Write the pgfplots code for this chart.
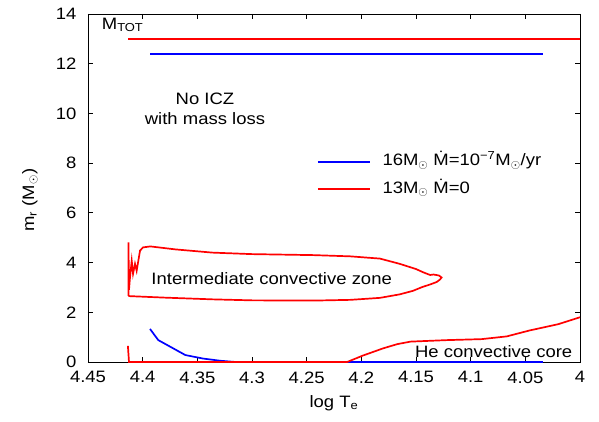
\documentclass[border=0pt]{standalone}
\usepackage{fontspec}
\setmainfont{Liberation Sans}[FakeStretch=1.12]
\usepackage{pgfplots}
\pgfplotsset{compat=1.18}
\definecolor{pblue}{RGB}{0,0,255}
\definecolor{pred}{RGB}{255,0,0}
\begin{document}
\begin{tikzpicture}[font=\fontsize{16.5}{20}\selectfont]
\begin{axis}[
  name=ax,
  scale only axis,
  width=492pt, height=348pt,
  x dir=reverse,
  xmin=4, xmax=4.45, ymin=0, ymax=14,
  xtick={4,4.05,4.1,4.15,4.2,4.25,4.3,4.35,4.4,4.45},
  xticklabels={4,4.05,4.1,4.15,4.2,4.25,4.3,4.35,4.4,4.45},
  ytick={0,2,4,6,8,10,12,14},
  /pgf/number format/assume math mode=true,
  major tick length=5pt,
  axis line style={line width=0.8pt},
  every tick/.style={black, line width=0.8pt},
  tick label style={font=\fontsize{16.5}{20}\selectfont},
  xticklabel style={yshift=-6pt},
  yticklabel style={xshift=-8pt},
  xlabel={log T\textsubscript{e}},
  ylabel={m\textsubscript{r} (M$_\odot$)},
  xlabel style={at={(axis description cs:0.5,-0.118)}, anchor=center},
  ylabel style={at={(axis description cs:-0.118,0.465)}, anchor=center},
  clip=false,
  legend style={draw=none, fill=none, inner sep=0pt, outer sep=0pt,
    anchor=west, at={(axis cs:4.2408,7.5)}, row sep=11.6pt, column sep=11.7pt,
    nodes={inner sep=0pt, text height=12pt, text depth=4pt, anchor=west}},
  legend cell align=left,
  legend image code/.code={\draw[#1, line width=2.1pt] (0pt,0pt) -- (52pt,0pt);},
]
\addlegendimage{pblue}
\addlegendentry{16M$_\odot$ \.M=10\textsuperscript{−7}M$_\odot$/yr}
\addlegendimage{pred}
\addlegendentry{13M$_\odot$ \.M=0}

% blue: 16 Msun with mass loss
\addplot[pblue, line width=1.7pt, forget plot] coordinates {(4.393,12.40) (4.034,12.40)};
\addplot[pblue, line width=1.7pt, forget plot] coordinates {
 (4.3933,1.33) (4.3857,0.88) (4.361,0.28) (4.345,0.14) (4.329,0.05) (4.315,0) (4.034,0)};

% red: 13 Msun no mass loss
\addplot[pred, line width=1.7pt, forget plot] coordinates {(4.413,13.0) (4.0,13.0)};
\addplot[pred, line width=1.7pt, forget plot] coordinates {
 (4.413,2.66) (4.413,4.81) (4.4125,2.90) (4.4116,3.40) (4.410,4.07) (4.4088,3.55)
 (4.407,3.95) (4.4055,3.67) (4.4024,4.48) (4.3997,4.61) (4.393,4.65) (4.37,4.53)
 (4.336,4.40) (4.30,4.34) (4.244,4.30) (4.21,4.25) (4.183,4.16) (4.165,3.95)
 (4.150,3.74) (4.144,3.62) (4.140,3.55) (4.137,3.50) (4.134,3.52) (4.129,3.48)
 (4.1266,3.40) (4.128,3.32) (4.131,3.22) (4.137,3.12) (4.144,3.02) (4.153,2.86)
 (4.165,2.72) (4.183,2.58) (4.21,2.50) (4.244,2.47) (4.30,2.48) (4.336,2.52)
 (4.38,2.59) (4.412,2.65) (4.413,2.66)};
\addplot[pred, line width=1.7pt, forget plot] coordinates {
 (4.4135,0.65) (4.4125,0) (4.213,0) (4.1985,0.26) (4.18,0.55) (4.167,0.72)
 (4.155,0.82) (4.122,0.88) (4.09,0.92) (4.067,1.03) (4.046,1.27) (4.02,1.52) (4.0,1.80)};

\node[anchor=base west, inner sep=0pt] at (axis cs:4.4375,13.38) {M\textsubscript{TOT}};
\node[anchor=base, inner sep=0pt] at (axis cs:4.343,10.37) {No ICZ};
\node[anchor=base, inner sep=0pt] at (axis cs:4.343,9.56) {with mass loss};
\node[anchor=base, inner sep=0pt] at (axis cs:4.282,3.13) {Intermediate convective zone};
\node[anchor=base west, inner sep=0pt] at (axis cs:4.151,0.17) {He convective core};
\end{axis}
\pgfresetboundingbox
\useasboundingbox ([shift={(-88pt,-60pt)}]ax.south west) rectangle ([shift={(19pt,14pt)}]ax.north east);
\end{tikzpicture}
\end{document}
